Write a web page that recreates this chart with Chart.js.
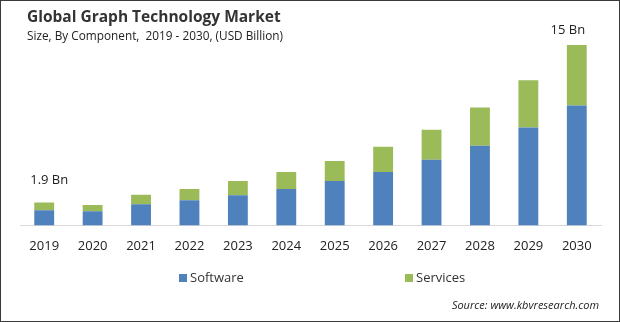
<!DOCTYPE html>
<html>
<head>
<meta charset="utf-8">
<script src="https://cdn.jsdelivr.net/npm/chart.js@4.4.1/dist/chart.umd.min.js"></script>
<style>
  body { margin: 0; background: #fff; }
  #wrap { position: relative; width: 620px; height: 322px; overflow: hidden; font-family: "Open Sans", sans-serif; color: #333; }
  #frame { position: absolute; left: 0; top: 0; width: 620px; height: 322px; box-sizing: border-box; border: 1px solid #3a3a3a; pointer-events: none; }
  canvas { position: absolute; left: 0; top: 0; }
  .title { position: absolute; left: 27px; top: 5px; font-size: 15.5px; font-weight: 700; color: #333; white-space: nowrap; }
  .sub { position: absolute; left: 27px; top: 27px; font-size: 11.8px; color: #222; white-space: nowrap; }
  .leg { position: absolute; top: 268px; font-size: 13px; color: #333; white-space: nowrap; }
  .leg i { display: inline-block; width: 8px; height: 8px; margin-right: 3px; vertical-align: 0px; }
  .src { position: absolute; right: 21px; top: 297px; font-size: 11px; font-style: italic; color: #222; white-space: nowrap; }
</style>
</head>
<body>
<div id="wrap">
  <canvas id="chart" width="620" height="322"></canvas>
  <div class="title">Global Graph Technology Market</div>
  <div class="sub">Size, By Component,&nbsp; 2019 - 2030, (USD Billion)</div>
  <div class="leg" id="leg0" style="left:179px"></div>
  <div class="leg" id="leg1" style="left:405px"></div>
  <div class="src">Source: www.kbvresearch.com</div>
  <div id="frame"></div>
</div>
<script>
const years = ["2019", "2020", "2021", "2022", "2023", "2024", "2025", "2026", "2027", "2028", "2029", "2030"];
const software = [1.26, 1.17, 1.76, 2.10, 2.51, 3.02, 3.69, 4.44, 5.45, 6.62, 8.13, 9.97];
const services = [0.64, 0.53, 0.78, 0.92, 1.18, 1.42, 1.67, 2.10, 2.51, 3.19, 3.94, 5.03];
const seriesNames = ["Software", "Services"];
const seriesColors = ["#4f81bd", "#9bbb59"];
const totalLabels = { 0: "1.9 Bn", 11: "15 Bn" };

// legend boxes
seriesNames.forEach((name, i) => {
    document.getElementById('leg' + i).innerHTML = `<i style="background:${seriesColors[i]}"></i>${name}`;
});

const totalsPlugin = {
    id: 'totals',
    afterDatasetsDraw(chart) {
        const ctx = chart.ctx;
        const x = chart.scales.x, y = chart.scales.y;
        const offsets = { 0: [5, -22], 11: [-9, -15] };
        ctx.save();
        ctx.font = '13px "Open Sans"';
        ctx.fillStyle = '#222';
        ctx.textAlign = 'center';
        ctx.textBaseline = 'middle';
        Object.keys(totalLabels).forEach(k => {
            const i = Number(k);
            const px = x.getPixelForValue(i) + offsets[i][0];
            const py = y.getPixelForValue(software[i] + services[i]) + offsets[i][1];
            ctx.fillText(totalLabels[i], px, py);
        });
        ctx.restore();
    }
};

new Chart(document.getElementById('chart'), {
    type: 'bar',
    data: {
        labels: years,
        datasets: [
            { label: seriesNames[0], data: software, backgroundColor: seriesColors[0] },
            { label: seriesNames[1], data: services, backgroundColor: seriesColors[1] }
        ]
    },
    options: {
        responsive: false,
        animation: false,
        layout: { padding: { left: 20, right: 19, top: 45, bottom: 63 } },
        datasets: { bar: { barPercentage: 0.41, categoryPercentage: 1 } },
        plugins: { legend: { display: false }, tooltip: { enabled: false } },
        scales: {
            x: {
                stacked: true,
                grid: { display: false },
                border: { color: '#d9d9d9', width: 1 },
                ticks: { color: '#222', font: { family: 'Open Sans', size: 13 }, padding: 5 }
            },
            y: { stacked: true, display: false, min: 0, max: 15 }
        }
    },
    plugins: [totalsPlugin]
});
</script>
</body>
</html>
